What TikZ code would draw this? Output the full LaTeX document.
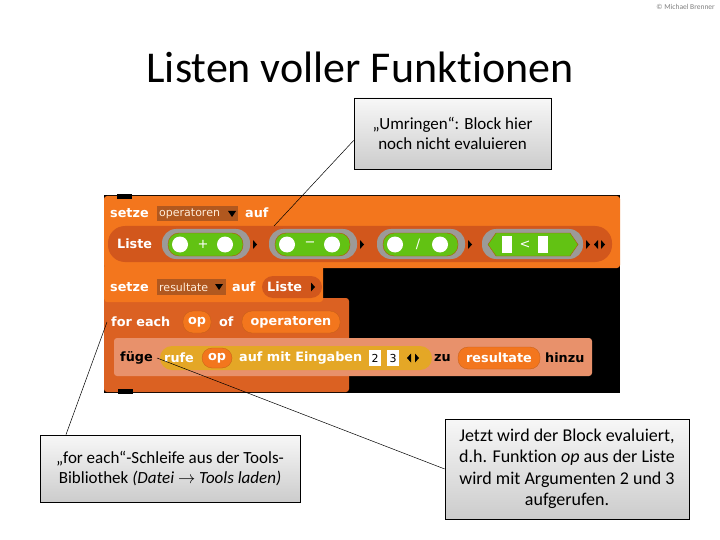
\documentclass[tikz,border=0pt]{standalone}
\usepackage{fontspec}
\setmainfont{Carlito}[Ligatures=NoCommon]
\newfontfamily\snapfont{DejaVu Sans}
\usetikzlibrary{calc}
\definecolor{varorange}{HTML}{F3761D}
\definecolor{listred}{HTML}{D2571C}
\definecolor{eachred}{HTML}{DB6122}
\definecolor{zebra}{HTML}{E8916B}
\definecolor{ctrlgold}{HTML}{E4A726}
\definecolor{dropbrown}{HTML}{B1581F}
\definecolor{ringgray}{HTML}{9C9A98}
\definecolor{opgreen}{HTML}{62C213}

\begin{document}
\begin{tikzpicture}[x=1pt, y=-1pt,
  callout/.style={draw=black, line width=0.6pt, top color=gray!6, bottom color=gray!40,
    align=center, inner sep=0pt, font=\fontsize{17}{20.5}\selectfont},
  lbl/.style={anchor=west, inner sep=0pt, text=white, font=\snapfont\bfseries\fontsize{12.8}{14}\selectfont},
  dlbl/.style={lbl, text=black},
  slot/.style={anchor=west, inner sep=0pt, text=white!85!orange, font=\snapfont\fontsize{11}{13}\selectfont},
  sym/.style={inner sep=0pt, text=white, font=\snapfont\fontsize{13}{14}\selectfont},
  pill/.style={fill=varorange, draw=varorange!80!black, line width=0.3pt, rounded corners=10pt},
  link/.style={draw=black, line width=0.5pt}]
\useasboundingbox (0,0) rectangle (720,540);
% ---------------- title ----------------
\node[anchor=east, inner sep=0pt, text=gray, font=\fontsize{7.5}{9}\selectfont] (credit) at (715,7) {\textcopyright\ Michael Brenner};
\node[anchor=base, inner sep=0pt, font=\fontsize{44}{50}\selectfont] (title) at (360,83) {Listen voller Funktionen};
% ---------------- snap script ----------------
\fill[black] (104,195) rectangle (620,393);
% block 3: for each op of operatoren
\fill[eachred, rounded corners=3pt] (104,298) rectangle (349,392);
\fill[black] (118,389) rectangle (133,394);
% block 2: setze resultate auf (liste)
\fill[varorange, rounded corners=3pt] (104,264) rectangle (323,302);
% block 1: setze operatoren auf (liste ...)
\fill[varorange, rounded corners=3pt] (104,196) rectangle (620,268);
\fill[black] (117,194) rectangle (132,199);
\node[lbl] (setze1) at (110,213) {setze};
\fill[dropbrown] (157,206) rectangle (238,221);
\node[slot] (drop1) at (159,213.5) {operatoren};
\fill[black] (228,211) -- (236,211) -- (232,217) -- cycle;
\node[lbl] (auf1) at (245,213) {auf};
\fill[listred, rounded corners=17pt] (108,226) rectangle (612,262);
\node[lbl] (liste1) at (117,244) {Liste};
% the ringed operator slots
\foreach \L/\s [count=\i] in {162/+, 269/−, 377/{/}} {
  \fill[ringgray, rounded corners=14pt] (\L,229) rectangle ++(88,30);
  \fill[opgreen, draw=orange!70!black, line width=0.4pt, rounded corners=11pt] (\L+6,233) rectangle ++(75,23);
  \fill[white] (\L+18,244.5) circle[radius=8pt];
  \fill[white] (\L+63,244.5) circle[radius=8pt];
  \node[sym] (op\i) at (\L+41,244.5) {\s};
}
\fill[ringgray, rounded corners=14pt] (482,229) rectangle (583,259);
\fill[opgreen, draw=orange!70!black, line width=0.4pt] (488,244.5) -- (496,233) -- (570,233) -- (578,244.5) -- (570,256) -- (496,256) -- cycle;
\fill[white] (502,236) rectangle (512,253);
\fill[white] (538,236) rectangle (548,253);
\node[sym] (op4) at (525,244.5) {<};
\foreach \a in {253,360,468,586,601}
  \fill[black] (\a,240) -- (\a+4,244.5) -- (\a,249) -- cycle;
\fill[black] (598,240) -- (594,244.5) -- (598,249) -- cycle;
% block 2 contents
\node[lbl] (setze2) at (110,287) {setze};
\fill[dropbrown] (157,279) rectangle (226,295);
\node[slot] (drop2) at (159,287) {resultate};
\fill[black] (215,284) -- (223,284) -- (219,290) -- cycle;
\node[lbl] (auf2) at (232,287) {auf};
\fill[listred, rounded corners=11pt] (262,276) rectangle (322,298);
\node[lbl] (liste2) at (267,287) {Liste};
\fill[black] (311,282.5) -- (315,287) -- (311,291.5) -- cycle;
% block 3 contents
\node[lbl] (foreach) at (111,322) {for each};
\path[pill] (183,311) rectangle (211,333);
\node[lbl, anchor=center] (opvar) at (197,322) {op};
\node[lbl] (of) at (219,322) {of};
\path[pill] (242,311) rectangle (340,333);
\node[lbl, anchor=center] (opliste) at (291,322) {operatoren};
% inner block: fuege ... hinzu
\fill[zebra, rounded corners=3pt] (114,338) rectangle (592,376);
\node[dlbl] (fuege) at (120,358) {füge};
\fill[ctrlgold, rounded corners=12pt] (160,346) rectangle (432,370);
\node[lbl] (rufe) at (164,358) {rufe};
\path[pill] (202,348) rectangle (232,368);
\node[lbl, anchor=center] (opcall) at (217,358) {op};
\node[lbl] (eingaben) at (239,358) {auf mit Eingaben};
\fill[white] (369,350) rectangle (381,366);
\fill[white] (387,350) rectangle (399,366);
\node[slot, anchor=center, text=black] (arg2) at (375,358) {2};
\node[slot, anchor=center, text=black] (arg3) at (393,358) {3};
\fill[black] (411,353.5) -- (407,358) -- (411,362.5) -- cycle;
\fill[black] (415,353.5) -- (419,358) -- (415,362.5) -- cycle;
\node[dlbl] (zu) at (434,358) {zu};
\path[pill] (458,347) rectangle (540,369);
\node[lbl, anchor=center] (resvar) at (499,358) {resultate};
\node[dlbl] (hinzu) at (545,358) {hinzu};
% ---------------- callouts ----------------
\coordinate (ringgap) at (274,226);
\coordinate (forstart) at (107,322);
\coordinate (fuegeword) at (157,358);
\node[callout, minimum width=197pt, minimum height=71pt] (umringen) at (452.5,133.5)
  {„Umringen“: Block hier\\noch nicht evaluieren};
\node[callout, minimum width=260pt, minimum height=67pt] (toolsbib) at (170,468.5)
  {„for each“-Schleife aus der Tools-\\Bibliothek \textit{(Datei $\rightarrow$ Tools laden)}};
\node[callout, minimum width=244pt, minimum height=100pt, font=\fontsize{18}{21.5}\selectfont] (evaluiert) at (567,469)
  {Jetzt wird der Block evaluiert,\\d.h. Funktion \textit{op} aus der Liste\\wird mit Argumenten 2 und 3\\aufgerufen.};
\draw[link] (umringen.184) -- (ringgap);
\draw[link] (toolsbib.162) -- (forstart);
\draw[link] (evaluiert.west) -- (fuegeword);
\end{tikzpicture}
\end{document}
